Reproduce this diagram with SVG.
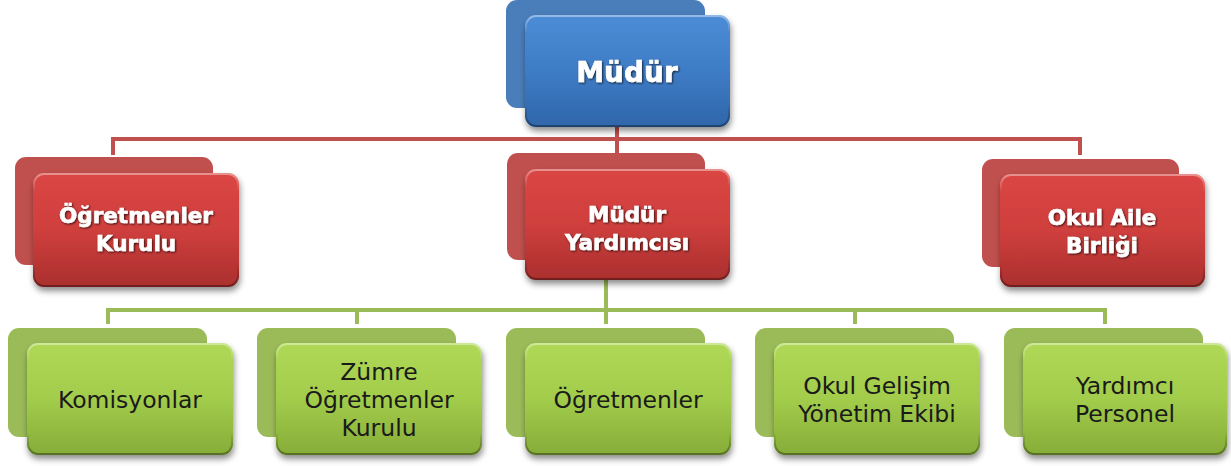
<svg xmlns="http://www.w3.org/2000/svg" width="1231" height="466" viewBox="0 0 1231 466">
<style>
.bb{fill:#4a7ebb}
.rb{fill:#c0504d}
.gb{fill:#9bbb59}
.bf{fill:url(#gBlue)}
.rf{fill:url(#gRed)}
.gf{fill:url(#gGreen)}
.front{filter:url(#sh)}
.bev{fill:none;stroke:url(#gBev);stroke-width:2}
.wt{font-family:"DejaVu Sans",sans-serif;font-weight:bold;fill:#fff;stroke:#fff;stroke-width:0.6;text-anchor:middle;dominant-baseline:central;filter:url(#tsh)}
.dt{font-family:"DejaVu Sans",sans-serif;font-size:23.5px;fill:#1a1a1a;text-anchor:middle;dominant-baseline:central}
.rl{stroke:#c0504d;stroke-width:4;fill:none}
.gl{stroke:#9bbb59;stroke-width:4;fill:none}
</style>
<defs>
<linearGradient id="gBlue" x1="0" y1="0" x2="0" y2="1">
<stop offset="0" stop-color="#4d8cd6"/><stop offset="0.5" stop-color="#3e7cc6"/><stop offset="1" stop-color="#2f66aa"/>
</linearGradient>
<linearGradient id="gRed" x1="0" y1="0" x2="0" y2="1">
<stop offset="0" stop-color="#da4644"/><stop offset="0.5" stop-color="#cf3f3d"/><stop offset="1" stop-color="#aa2f2e"/>
</linearGradient>
<linearGradient id="gGreen" x1="0" y1="0" x2="0" y2="1">
<stop offset="0" stop-color="#aed855"/><stop offset="0.5" stop-color="#a2cc4b"/><stop offset="1" stop-color="#86ad38"/>
</linearGradient>
<linearGradient id="gBev" x1="0" y1="0" x2="0" y2="1">
<stop offset="0" stop-color="#fff" stop-opacity="0.4"/><stop offset="0.15" stop-color="#fff" stop-opacity="0"/><stop offset="0.8" stop-color="#000" stop-opacity="0"/><stop offset="1" stop-color="#000" stop-opacity="0.35"/>
</linearGradient>
<filter id="sh" x="-10%" y="-10%" width="125%" height="135%">
<feDropShadow dx="1" dy="4" stdDeviation="3" flood-color="#000" flood-opacity="0.45"/>
</filter>
<filter id="tsh" x="-10%" y="-30%" width="120%" height="160%">
<feDropShadow dx="1" dy="1" stdDeviation="1.2" flood-color="#000" flood-opacity="0.75"/>
</filter>
</defs>

<g id="connectors">
<path class="rl" d="M113 155 V139 H1080 V155 M617 127 V155"/>
<path class="gl" d="M108 324 V310 H1105 V324 M357 310 V324 M855 310 V324 M606 280 V324"/>
</g>

<g id="mudur">
<rect class="bb" x="506" y="0" width="199" height="108" rx="11"/>
<g class="front"><rect class="bf" x="525" y="15" width="205" height="112" rx="11"/></g>
<rect class="bev" x="526" y="16" width="203" height="110" rx="10"/>
<text class="wt" x="627" y="72" font-size="28">Müdür</text>
</g>

<g id="ogretmenler-kurulu">
<rect class="rb" x="15" y="157" width="198" height="108" rx="11"/>
<g class="front"><rect class="rf" x="33" y="173" width="206" height="114" rx="11"/></g>
<rect class="bev" x="34" y="174" width="204" height="112" rx="10"/>
<text class="wt" x="136" y="215" font-size="21.5">Öğretmenler</text>
<text class="wt" x="136" y="243" font-size="21.5">Kurulu</text>
</g>

<g id="mudur-yardimcisi">
<rect class="rb" x="507" y="153" width="198" height="107" rx="11"/>
<g class="front"><rect class="rf" x="525" y="169" width="205" height="111" rx="11"/></g>
<rect class="bev" x="526" y="170" width="203" height="109" rx="10"/>
<text class="wt" x="627" y="214" font-size="21.5">Müdür</text>
<text class="wt" x="627" y="242" font-size="21.5">Yardımcısı</text>
</g>

<g id="okul-aile-birligi">
<rect class="rb" x="982" y="159" width="197" height="108" rx="11"/>
<g class="front"><rect class="rf" x="1000" y="174" width="205" height="113" rx="11"/></g>
<rect class="bev" x="1001" y="175" width="203" height="111" rx="10"/>
<text class="wt" x="1102" y="217" font-size="21.5">Okul Aile</text>
<text class="wt" x="1102" y="245" font-size="21.5">Birliği</text>
</g>

<g id="komisyonlar">
<rect class="gb" x="8" y="328" width="199" height="109" rx="11"/>
<g class="front"><rect class="gf" x="27" y="343" width="206" height="112" rx="11"/></g>
<rect class="bev" x="28" y="344" width="204" height="110" rx="10"/>
<text class="dt" x="130" y="400">Komisyonlar</text>
</g>

<g id="zumre">
<rect class="gb" x="257" y="328" width="199" height="109" rx="11"/>
<g class="front"><rect class="gf" x="276" y="343" width="206" height="112" rx="11"/></g>
<rect class="bev" x="277" y="344" width="204" height="110" rx="10"/>
<text class="dt" x="379" y="372">Zümre</text>
<text class="dt" x="379" y="400">Öğretmenler</text>
<text class="dt" x="379" y="428">Kurulu</text>
</g>

<g id="ogretmenler">
<rect class="gb" x="506" y="328" width="199" height="109" rx="11"/>
<g class="front"><rect class="gf" x="525" y="343" width="206" height="112" rx="11"/></g>
<rect class="bev" x="526" y="344" width="204" height="110" rx="10"/>
<text class="dt" x="628" y="400">Öğretmenler</text>
</g>

<g id="okul-gelisim">
<rect class="gb" x="755" y="328" width="199" height="109" rx="11"/>
<g class="front"><rect class="gf" x="774" y="343" width="206" height="112" rx="11"/></g>
<rect class="bev" x="775" y="344" width="204" height="110" rx="10"/>
<text class="dt" x="877" y="386">Okul Gelişim</text>
<text class="dt" x="877" y="414">Yönetim Ekibi</text>
</g>

<g id="yardimci-personel">
<rect class="gb" x="1004" y="328" width="199" height="109" rx="11"/>
<g class="front"><rect class="gf" x="1023" y="343" width="204" height="112" rx="11"/></g>
<rect class="bev" x="1024" y="344" width="202" height="110" rx="10"/>
<text class="dt" x="1125" y="386">Yardımcı</text>
<text class="dt" x="1125" y="414">Personel</text>
</g>
</svg>
